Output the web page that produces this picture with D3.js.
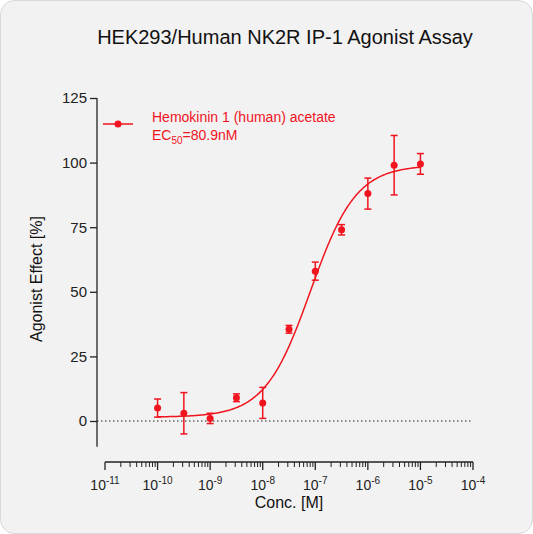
<!DOCTYPE html>
<html><head><meta charset="utf-8">
<script src="https://cdn.jsdelivr.net/npm/d3@7"></script>
<style>body{margin:0;background:#fff}text{font-family:Arial,"Liberation Sans",sans-serif}</style>
</head><body><svg id="c" width="533" height="534"></svg>
<script>
const logConc = [-10, -9.5, -9, -8.5, -8, -7.5, -7, -6.5, -6, -5.5, -5];
const effect  = [5, 3, 1, 9, 7, 35.5, 58, 74, 88, 99, 99.5];
const errs    = [3.5, 8, 2, 1.5, 6, 1.5, 3.5, 2, 6, 11.5, 4];
const fitParams = [1.5, 99, Math.log10(80.9e-9), 1]; // bottom, top, logEC50, hill
const yTicks = [0, 25, 50, 75, 100, 125];
const xDecades = [-11, -10, -9, -8, -7, -6, -5, -4];
const red = "#f0141e";

const svg = d3.select("#c");
svg.append("rect").attr("x",0.5).attr("y",0.5).attr("width",532).attr("height",533).attr("rx",14)
  .attr("fill","#f2f2f2").attr("stroke","#d8d8d8");
const x = d3.scaleLinear().domain([-11,-4]).range([105,473]);
const y = d3.scaleLinear().domain([0,125]).range([421,98]);

const ya = svg.append("g").attr("transform","translate(97,0)");
ya.call(d3.axisLeft(y).tickValues(yTicks).tickSize(7).tickSizeOuter(0));
ya.select(".domain").attr("d",`M0,${y(125)}V${y(-10)}`);
ya.selectAll("text").attr("font-size",15).attr("fill","#222");
ya.selectAll("line,path").attr("stroke","#222").attr("stroke-width",1.3);

const xa = svg.append("g").attr("transform","translate(0,462)");
xa.append("line").attr("x1",x(-11)).attr("x2",x(-4)).attr("stroke","#222").attr("stroke-width",1.3);
xDecades.forEach(d=>{
  xa.append("line").attr("x1",x(d)).attr("x2",x(d)).attr("y2",8).attr("stroke","#222").attr("stroke-width",1.3);
  const t = xa.append("text").attr("x",x(d)).attr("y",28).attr("text-anchor","middle").attr("font-size",14).attr("fill","#222");
  t.append("tspan").text("10");
  t.append("tspan").attr("dy",-6).attr("font-size",10).text(d);
  if (d<-4) for(let k=2;k<10;k++){
    const v=d+Math.log10(k);
    xa.append("line").attr("x1",x(v)).attr("x2",x(v)).attr("y2",5).attr("stroke","#222").attr("stroke-width",1);
  }
});

svg.append("line").attr("x1",97).attr("x2",473).attr("y1",y(0)).attr("y2",y(0))
  .attr("stroke","#222").attr("stroke-dasharray","1.5,2.5");

const [fBot,fTop,fLec,fHill]=fitParams;
const cx=d3.range(-10,-5+0.001,0.02);
svg.append("path").datum(cx).attr("fill","none").attr("stroke",red).attr("stroke-width",1.5)
  .attr("d",d3.line().x(d=>x(d)).y(d=>y(fBot+(fTop-fBot)/(1+Math.pow(10,(fLec-d)*fHill)))));

logConc.forEach((c,i)=>{
  const g=svg.append("g").attr("stroke",red).attr("stroke-width",1.5);
  g.append("line").attr("x1",x(c)).attr("x2",x(c)).attr("y1",y(effect[i]-errs[i])).attr("y2",y(effect[i]+errs[i]));
  [effect[i]-errs[i],effect[i]+errs[i]].forEach(v=>g.append("line").attr("x1",x(c)-3.5).attr("x2",x(c)+3.5).attr("y1",y(v)).attr("y2",y(v)));
  svg.append("circle").attr("cx",x(c)).attr("cy",y(effect[i])).attr("r",3.5).attr("fill",red);
});

svg.append("line").attr("x1",103).attr("x2",133).attr("y1",124).attr("y2",124).attr("stroke",red).attr("stroke-width",1.5);
svg.append("circle").attr("cx",118).attr("cy",124).attr("r",3.5).attr("fill",red);
svg.append("text").attr("x",152).attr("y",122).attr("font-size",14).attr("fill",red).text("Hemokinin 1 (human) acetate");
const lt=svg.append("text").attr("x",152).attr("y",140).attr("font-size",14).attr("fill",red);
lt.append("tspan").text("EC");
lt.append("tspan").attr("dy",4).attr("font-size",10).text("50");
lt.append("tspan").attr("dy",-4).text("=80.9nM");

svg.append("text").attr("x",285).attr("y",44).attr("text-anchor","middle").attr("font-size",20).attr("fill","#111")
  .text("HEK293/Human NK2R IP-1 Agonist Assay");
svg.append("text").attr("transform","translate(42,279) rotate(-90)").attr("text-anchor","middle").attr("font-size",16).attr("fill","#111")
  .text("Agonist Effect [%]");
svg.append("text").attr("x",289).attr("y",508).attr("text-anchor","middle").attr("font-size",16).attr("fill","#111").text("Conc. [M]");
</script></body></html>
